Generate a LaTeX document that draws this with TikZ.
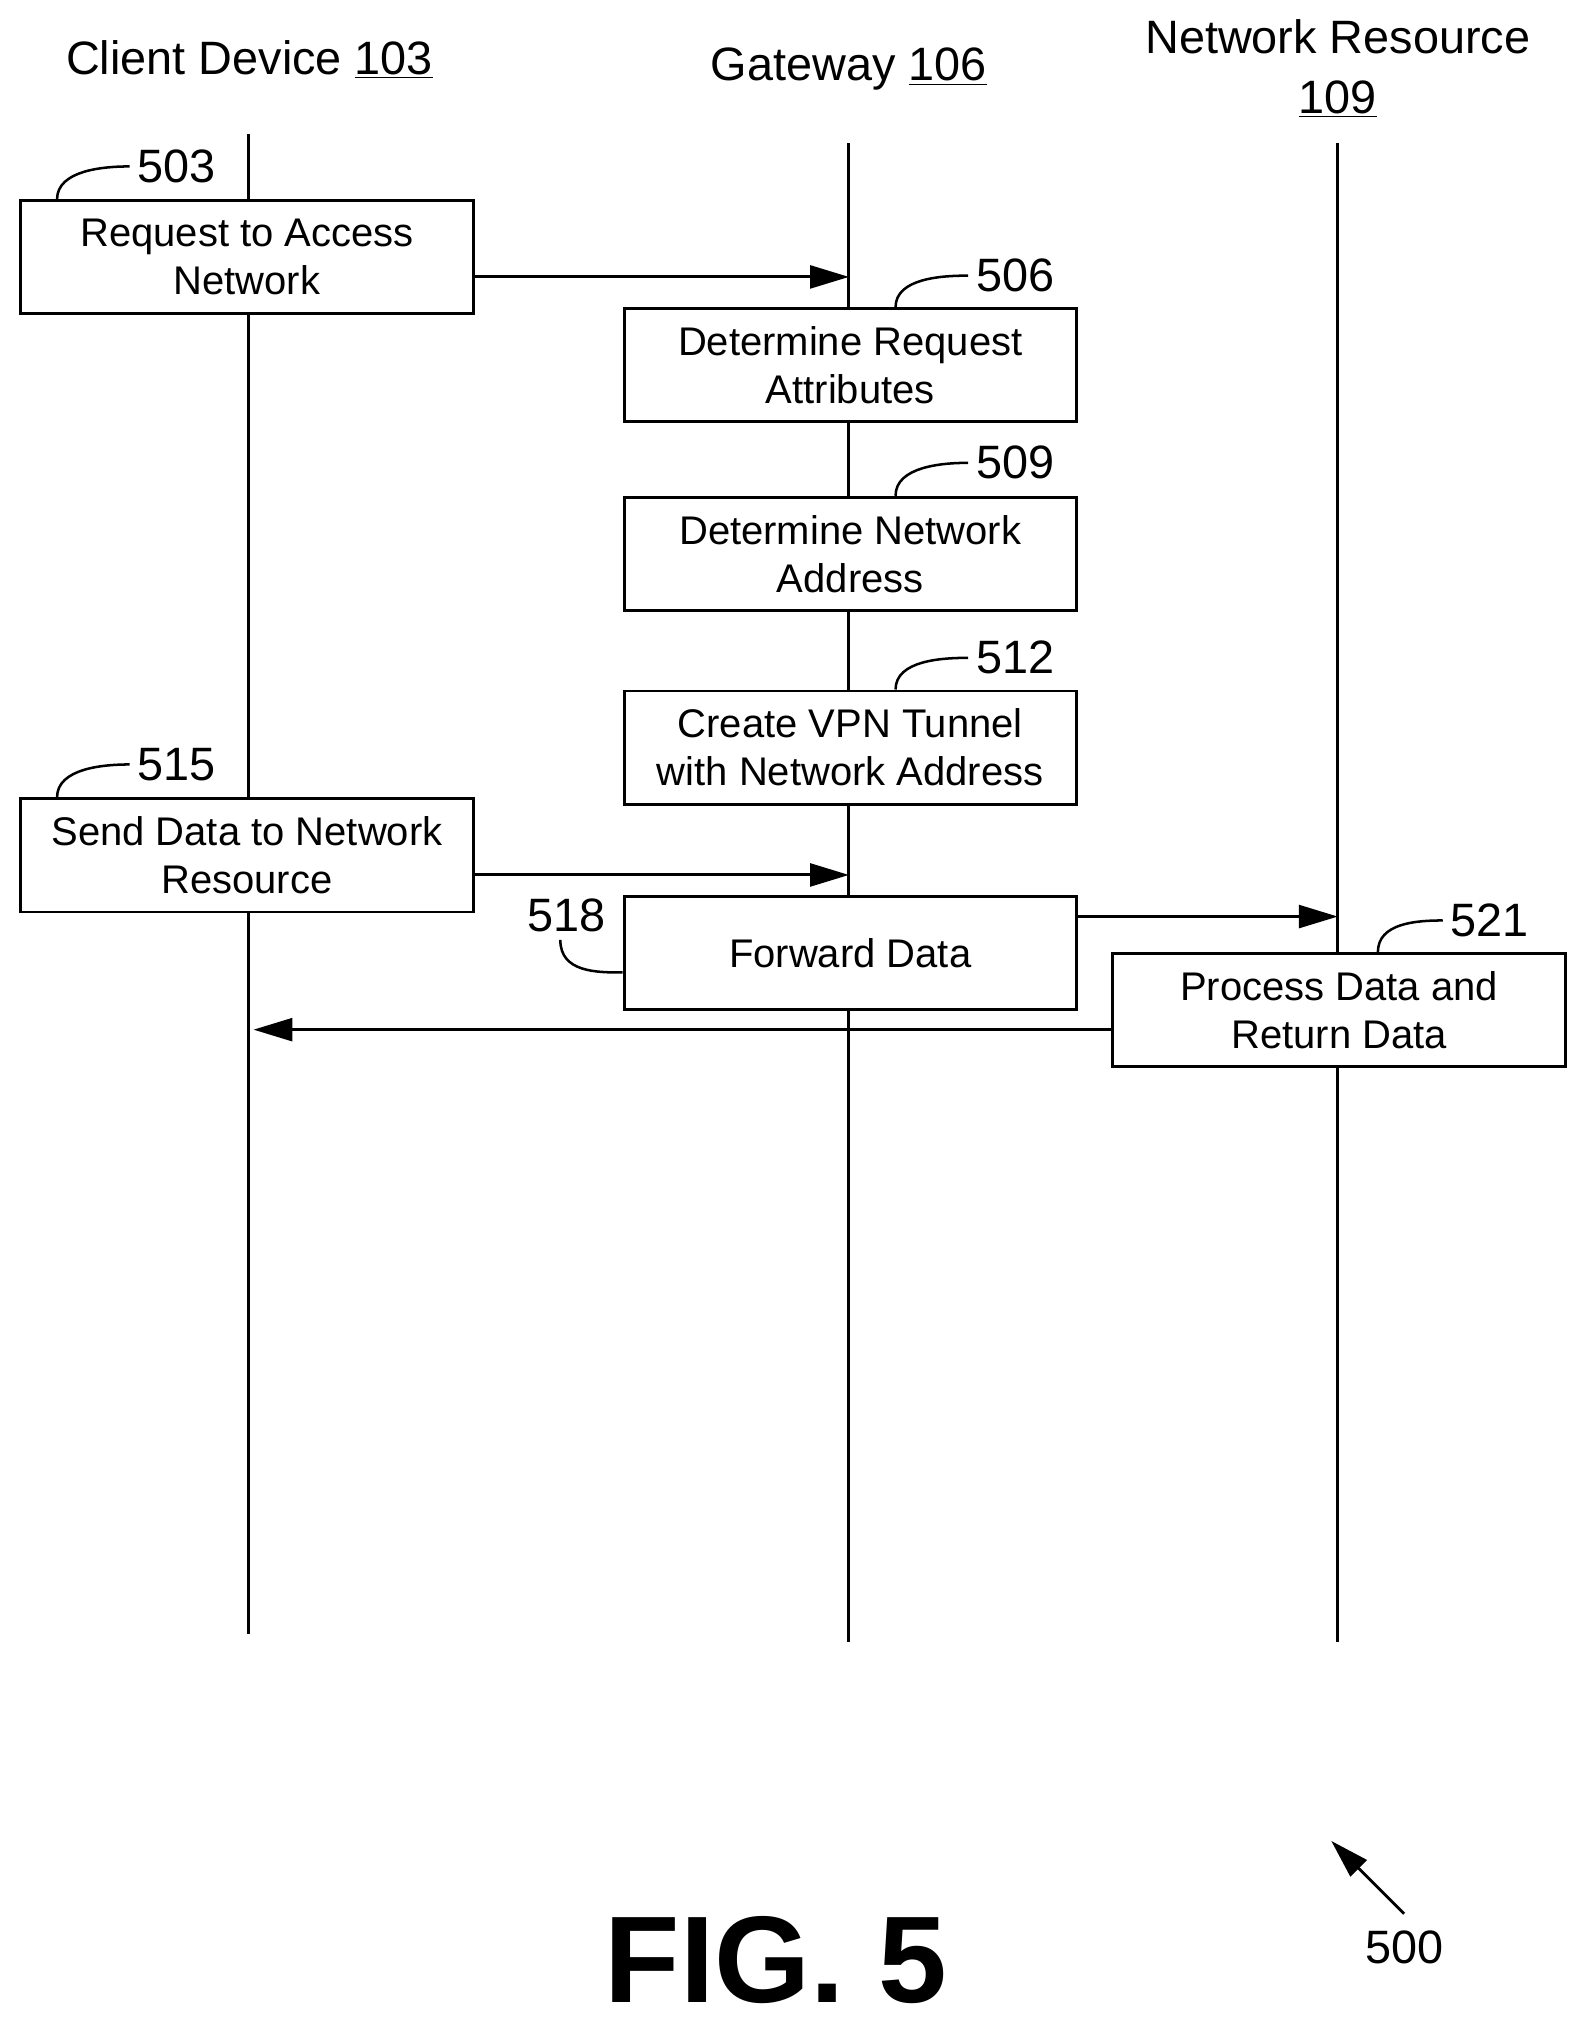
\documentclass[tikz,border=0pt]{standalone}
\usepackage{fontspec}
\setmainfont{Liberation Sans}
\usetikzlibrary{arrows.meta,calc}
\begin{document}
\begin{tikzpicture}[x=0.02cm,y=-0.02cm,
  every node/.style={font=\fontsize{17.5}{21}\selectfont},
  big/.style={font=\fontsize{20.5}{25}\selectfont},
  box/.style={draw,line width=1.3pt,fill=white,minimum width=6.96cm,minimum height=1.74cm,align=center,inner sep=0pt},
  life/.style={line width=1.3pt},
  msg/.style={line width=1.3pt,-{Triangle[length=17pt,width=10pt]}},
  lead/.style={line width=1.1pt}]
\useasboundingbox (0,0) rectangle (1216,1563);
% headers
\node[big] (h1) at (192,46) {Client Device \underline{103}};
\node[big] (h2) at (653,53) {Gateway \underline{106}};
\node[big,align=center] (h3) at (1029,53) {Network Resource\\[1pt]\underline{109}};
% lifelines
\coordinate (c1t) at (191,103); \coordinate (c1b) at (191,1257);
\coordinate (c2t) at (653,110); \coordinate (c2b) at (653,1263);
\coordinate (c3t) at (1029,110); \coordinate (c3b) at (1029,1263);
\draw[life] (c1t)--(c1b); \draw[life] (c2t)--(c2b); \draw[life] (c3t)--(c3b);
% boxes
\node[box] (b503) at (190,198) {Request to Access\\Network};
\node[box] (b506) at (654,281) {Determine Request\\Attributes};
\node[box] (b509) at (654,426) {Determine Network\\Address};
\node[box] (b512) at (654,575) {Create VPN Tunnel\\with Network Address};
\node[box] (b515) at (190,658) {Send Data to Network\\Resource};
\node[box] (b518) at (654,733) {Forward Data};
\node[box] (b521) at (1030,777) {Process Data and\\Return Data};
% labels
\node[big] (l503) at (136,128) {503};
\node[big] (l506) at (781,212) {506};
\node[big] (l509) at (781,356) {509};
\node[big] (l512) at (781,506) {512};
\node[big] (l515) at (136,588) {515};
\node[big] (l518) at (436,704) {518};
\node[big] (l521) at (1146,708) {521};
\foreach \b in {503,515}{
  \draw[lead] ([xshift=0.58cm]b\b.north west) .. controls +(0,0.45cm) and +(-0.4cm,0) .. (l\b.west);}
\foreach \b in {506,509,512}{
  \draw[lead] ([xshift=4.2cm]b\b.north west) .. controls +(0,0.45cm) and +(-0.4cm,0) .. (l\b.west);}
\draw[lead] ([xshift=4.1cm]b521.north west) .. controls +(0,0.45cm) and +(-0.4cm,0) .. (l521.west);
\draw[lead] ([xshift=-0.1cm]l518.south) .. controls +(0,-0.5cm) and +(-0.4cm,0) .. ([yshift=-0.3cm]b518.west);
% messages
\coordinate (g1) at (653,213); \coordinate (g2) at (653,673);
\coordinate (n1) at (1029,705); \coordinate (cl) at (195,792);
\draw[msg] (b503.east|-g1) -- (g1);
\draw[msg] (b515.east|-g2) -- (g2);
\draw[msg] (b518.east|-n1) -- (n1);
\draw[msg] (b521.west|-cl) -- (cl);
% figure label
\coordinate (a0) at (1080,1472); \coordinate (a1) at (1024,1416);
\draw[msg] (a0)--(a1);
\node[big] (l500) at (1080,1498) {500};
\node[font=\fontsize{54}{58}\selectfont\bfseries] (fig) at (597,1508) {FIG. 5};
\end{tikzpicture}
\end{document}
